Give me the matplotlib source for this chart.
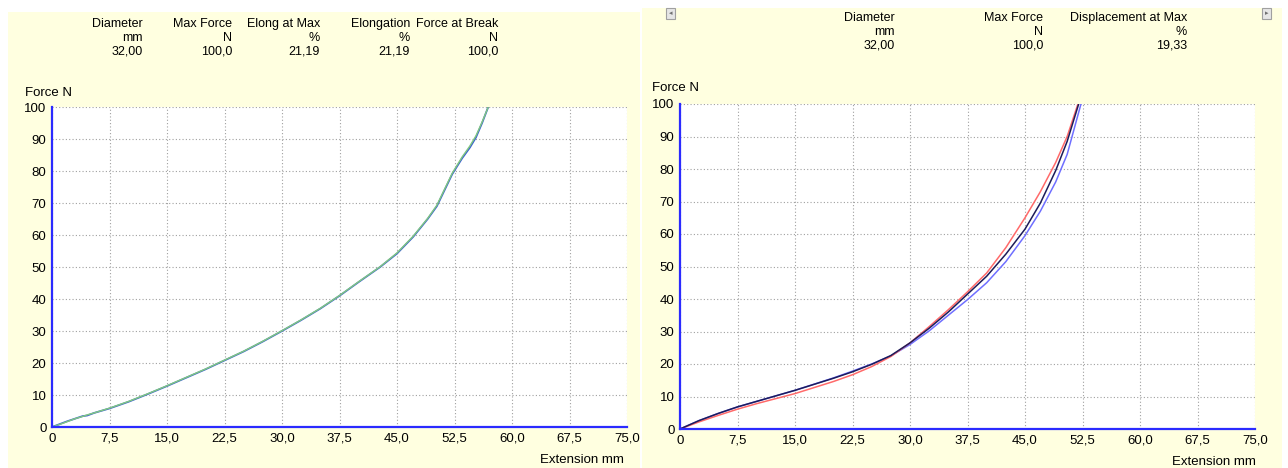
import numpy as np
import matplotlib
matplotlib.use("Agg")
import matplotlib.pyplot as plt
from matplotlib.patches import Rectangle
from matplotlib.ticker import FixedLocator, FuncFormatter

plt.rcParams['font.family'] = ['Liberation Sans', 'DejaVu Sans']

# left test: two nearly identical curves
left_ext = [0, 1, 2, 3, 4, 4.6, 5.5, 7.5, 10, 12.5, 15, 17.5, 20, 22.5, 25, 27.5, 30, 32.5, 35,
            37.5, 40, 42.8, 45, 47.1, 49, 50.2, 51.2, 52.2, 53.5, 54.5, 55.3, 56.1, 56.9]
left_force_a = [0, 0.9, 1.8, 2.6, 3.4, 3.6, 4.4, 5.8, 7.9, 10.3, 12.8, 15.4, 18, 20.8, 23.6, 26.7, 30, 33.4, 37,
                41, 45.3, 50, 54.2, 59.4, 65.0, 69.0, 74.0, 79.0, 84.0, 87.3, 90.5, 95, 100]
left_force_b = [0, 0.8, 1.7, 2.6, 3.3, 3.8, 4.4, 5.9, 8.0, 10.4, 12.9, 15.5, 18.1, 20.9, 23.7, 26.8, 30.1, 33.5, 37.1,
                41.1, 45.4, 50.1, 54.4, 59.6, 65.2, 69.3, 74.3, 79.3, 84.4, 87.8, 91.0, 95.3, 100]

left_heads = ["Diameter", "Max Force", "Elong at Max", "Elongation", "Force at Break"]
left_units = ["mm", "N", "%", "%", "N"]
left_vals = ["32,00", "100,0", "21,19", "21,19", "100,0"]

# right test: three specimens
right_ext = [0, 2.5, 5, 7.5, 10, 15, 20, 22.5, 25, 27.5, 30, 32.5, 35, 37.5, 40, 42.5, 45, 47, 49, 50.5]
black_force = [0, 2.6, 4.8, 6.8, 8.5, 11.9, 15.6, 17.6, 19.9, 22.6, 26.5, 31, 36, 41.5, 47, 53.8, 61.5, 69.5, 79.5, 88.5]
red_force = [0, 2.2, 4.2, 6.1, 7.8, 10.9, 14.6, 16.7, 19.2, 22.3, 26.5, 31.5, 36.7, 42.2, 48, 55.8, 65, 73, 82, 90]
blue_force = [0, 2.6, 4.8, 6.8, 8.5, 11.9, 15.7, 17.8, 20, 22.5, 26, 30.2, 35, 39.8, 45, 51.5, 59.5, 67, 76, 84.5]
black_end = 52.0
red_end = 51.9
blue_end = 52.3

right_heads = ["Diameter", "Max Force", "Displacement at Max"]
right_units = ["mm", "N", "%"]
right_vals = ["32,00", "100,0", "19,33"]

xticks = [0, 7.5, 15, 22.5, 30, 37.5, 45, 52.5, 60, 67.5, 75]
yticks = list(range(0, 101, 10))

W, H = 1288, 468
fig = plt.figure(figsize=(W / 100, H / 100), dpi=100)

PANEL = "#ffffe0"
SPINE = "#2b2bff"

# yellow panels behind everything
fig.patches.append(Rectangle((8 / W, 0), 632 / W, 456 / H, transform=fig.transFigure,
                             facecolor=PANEL, edgecolor="none", zorder=-5))
fig.patches.append(Rectangle((642 / W, 0), 640 / W, 460 / H, transform=fig.transFigure,
                             facecolor=PANEL, edgecolor="none", zorder=-5))


def fmt(v, pos):
    if v == 0:
        return "0"
    return ("%.1f" % v).replace(".", ",")


def setup(ax):
    ax.set_xlim(0, 75)
    ax.set_ylim(0, 100)
    ax.set_facecolor("white")
    ax.xaxis.set_major_locator(FixedLocator(xticks))
    ax.yaxis.set_major_locator(FixedLocator(yticks))
    ax.xaxis.set_major_formatter(FuncFormatter(fmt))
    ax.grid(True, color="#a0a0a0", linestyle=(0, (1, 2)), linewidth=0.8)
    ax.set_axisbelow(True)
    for s in ["top", "right"]:
        ax.spines[s].set_visible(False)
    for s in ["left", "bottom"]:
        ax.spines[s].set_color(SPINE)
        ax.spines[s].set_linewidth(1.6)
    ax.tick_params(length=0, labelsize=9.5, pad=4)


def px(x, y):
    return x / W, 1 - y / H


# left chart
axl = fig.add_axes([52 / W, 41 / H, 575 / W, 320 / H])
setup(axl)
axl.plot(left_ext, left_force_a, color="#3a5fd0", linewidth=1.3)
axl.plot(left_ext, left_force_b, color="#80c880", linewidth=1.0)

left_right_edges = [143, 232, 320, 410, 498]
for xr, h, u, v in zip(left_right_edges, left_heads, left_units, left_vals):
    for yy, t in zip([24, 38, 52], [h, u, v]):
        fig.text(*px(xr, yy), t, ha="right", va="center", fontsize=9)
fig.text(*px(25, 93), "Force N", ha="left", va="center", fontsize=9.5)
fig.text(*px(624, 460), "Extension mm", ha="right", va="center", fontsize=9.5)

# right chart
axr = fig.add_axes([680 / W, 39 / H, 575 / W, 325 / H])
setup(axr)
axr.plot(right_ext + [blue_end], blue_force + [100], color="#6f6fff", linewidth=1.1)
axr.plot(right_ext + [red_end], red_force + [100], color="#ff6a6a", linewidth=1.1)
axr.plot(right_ext + [black_end], black_force + [100], color="#1c1c5a", linewidth=1.1)

right_right_edges = [895, 1043, 1187]
for xr, h, u, v in zip(right_right_edges, right_heads, right_units, right_vals):
    for yy, t in zip([18, 32, 46], [h, u, v]):
        fig.text(*px(xr, yy), t, ha="right", va="center", fontsize=9)
fig.text(*px(652, 88), "Force N", ha="left", va="center", fontsize=9.5)
fig.text(*px(1256, 462), "Extension mm", ha="right", va="center", fontsize=9.5)

# little scroll buttons
for bx, arrow in [(666, "\u25c2"), (1262, "\u25b8")]:
    fig.patches.append(Rectangle((bx / W, 1 - 19 / H), 9 / W, 11 / H, transform=fig.transFigure,
                                 facecolor="#e6e6e6", edgecolor="#a0a0a0", linewidth=0.8, zorder=2))
    fig.text(*px(bx + 4.5, 13.5), arrow, ha="center", va="center", fontsize=5, color="#707070",
             family=['DejaVu Sans'])

fig.savefig("out.png", dpi=100)
